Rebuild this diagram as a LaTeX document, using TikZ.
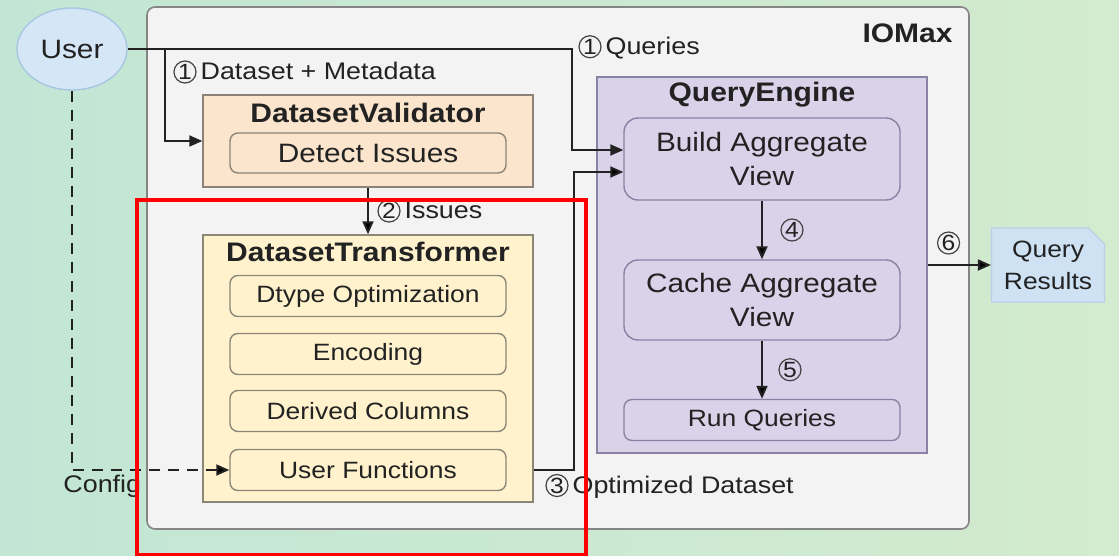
\documentclass[tikz,border=0pt]{standalone}
\usepackage{fontspec}
\setmainfont{Liberation Sans}[FakeStretch=1.12]
\usetikzlibrary{arrows.meta,calc,positioning,shapes.geometric,shapes.misc}

\definecolor{bgleft}{HTML}{C2E6D5}
\definecolor{bgright}{HTML}{D3EBCE}
\definecolor{iobg}{HTML}{F3F3F3}
\definecolor{frame}{HTML}{858585}
\definecolor{userfill}{HTML}{D5E6F6}
\definecolor{userline}{HTML}{A9C6E3}
\definecolor{dvfill}{HTML}{FCE5CD}
\definecolor{dvline}{HTML}{8B8378}
\definecolor{dtfill}{HTML}{FFF2CC}
\definecolor{dtline}{HTML}{8B8678}
\definecolor{qefill}{HTML}{D9D2E9}
\definecolor{qeline}{HTML}{8A82A3}
\definecolor{resfill}{HTML}{CFE2F3}
\definecolor{resline}{HTML}{B8D0E8}
\definecolor{ink}{HTML}{222222}

\newcommand{\bigtxt}{\fontsize{13.3}{17}\selectfont}
\newcommand{\titletxt}{\fontsize{13.4}{16}\selectfont\bfseries}
\newcommand{\lbltxt}{\fontsize{12}{14}\selectfont}
\newcommand{\smalltxt}{\fontsize{11.8}{16}\selectfont}
% circled step numbers
\newcommand{\cn}[1]{\tikz[baseline=(num.base)]\node[circle,draw=ink!85,line width=0.6pt,
  inner sep=0pt,minimum size=11pt,font=\fontsize{11}{12}\selectfont,text=ink](num){#1};}

\begin{document}
\begin{tikzpicture}[x=0.5pt,y=-0.5pt,
  outerbox/.style={draw=frame,fill=iobg,rounded corners=4pt,line width=0.8pt,inner sep=0pt},
  panel/.style={draw=#1,line width=0.7pt,inner sep=0pt,minimum width=165pt},
  item/.style={draw=#1,rounded corners=4pt,line width=0.7pt,minimum width=138pt,
    minimum height=20.5pt,inner sep=0pt,font=\smalltxt,text=ink},
  lbl/.style={font=\lbltxt,text=ink,inner sep=0pt},
  flow/.style={-{Triangle[length=6.5pt,width=5.5pt]},line width=1pt,draw=ink}]
\useasboundingbox (0,0) rectangle (1119,556);
\shade[left color=bgleft,right color=bgright] (0,0) rectangle (1119,556);

% system frame
\node[outerbox,minimum width=411pt,minimum height=261pt] (iomax) at (558,268) {};
\node[lbl,font=\titletxt,anchor=east] (iomaxT) at (953,33) {IOMax};

\node[ellipse,draw=userline,fill=userfill,line width=0.7pt,minimum width=55pt,
  minimum height=41pt,font=\bigtxt,text=ink] (user) at (72,49) {User};

% validator
\node[panel=dvline,fill=dvfill,minimum height=46pt] (dv) at (368,141) {};
\node[lbl,font=\titletxt] (dvT) at (368,113) {DatasetValidator};
\node[item=dvline,fill=dvfill,minimum height=20pt,font=\bigtxt] (detect) at (368,153) {Detect Issues};

% transformer
\node[panel=dtline,fill=dtfill,minimum height=133.5pt] (dt) at (368,368.5) {};
\node[lbl,font=\titletxt] (dtT) at (368,252) {DatasetTransformer};
\node[item=dtline,fill=dtfill] (dtype) at (368,296) {Dtype Optimization};
\node[item=dtline,fill=dtfill] (enc) at (368,354) {Encoding};
\node[item=dtline,fill=dtfill] (derived) at (368,411) {Derived Columns};
\node[item=dtline,fill=dtfill] (ufun) at (368,470) {User Functions};

% query engine
\node[panel=qeline,fill=qefill,minimum height=188pt] (qe) at (762,265) {};
\node[lbl,font=\titletxt] (qeT) at (762,95) {QueryEngine};
\node[item=qeline,fill=qefill,rounded corners=7pt,minimum height=41pt,font=\bigtxt,
  align=center] (build) at (762,159) {Build Aggregate\\View};
\node[item=qeline,fill=qefill,rounded corners=7pt,minimum height=40pt,font=\bigtxt,
  align=center] (cache) at (762,300) {Cache Aggregate\\View};
\node[item=qeline,fill=qefill] (run) at (762,420) {Run Queries};

\node[chamfered rectangle,chamfered rectangle corners=north east,
  chamfered rectangle xsep=4pt,chamfered rectangle ysep=4pt,draw=resline,fill=resfill,
  line width=0.6pt,minimum width=56.5pt,minimum height=37pt,inner sep=0pt,
  align=center,font=\smalltxt,text=ink] (res) at (1048,265) {Query\\Results};

% connectors
\coordinate (split) at (165,49);
\coordinate (qturn) at (572,49);
\coordinate (oturn) at (574,470);
\draw[flow] (user.east) -- (split) |- (dv.west);
\draw[flow] (split) -- (qturn) |- ([yshift=4.5pt]build.west);
\draw[flow] (dv.south) -- node[lbl,right=4.5pt] {\cn{2}\,Issues} (dt.north);
\draw[flow] (ufun.east -| dt.east) -- (oturn) |- ([yshift=-6.5pt]build.west);
\draw[flow] (build) -- node[lbl,right=9pt] {\cn{4}} (cache);
\draw[flow] (cache) -- node[lbl,right=8pt] {\cn{5}} (run);
\draw[flow] (qe.east) -- node[lbl,pos=0.33,above=5pt] {\cn{6}} (res.west);
\draw[flow,dashed,dash pattern=on 5.5pt off 4pt] (user.south) |- (ufun.west);

\node[lbl,anchor=west] (dsL) at (173,72) {\cn{1}\,Dataset + Metadata};
\node[lbl,anchor=west] (qL) at (578,47) {\cn{1}\,Queries};
\node[lbl,anchor=west] (optL) at (545,486) {\cn{3}\,Optimized Dataset};
\node[lbl,anchor=west] (cfgL) at (63,486) {Config};

% highlight
\draw[red,line width=1.7pt] (137,200) rectangle (586,555);
\end{tikzpicture}
\end{document}
